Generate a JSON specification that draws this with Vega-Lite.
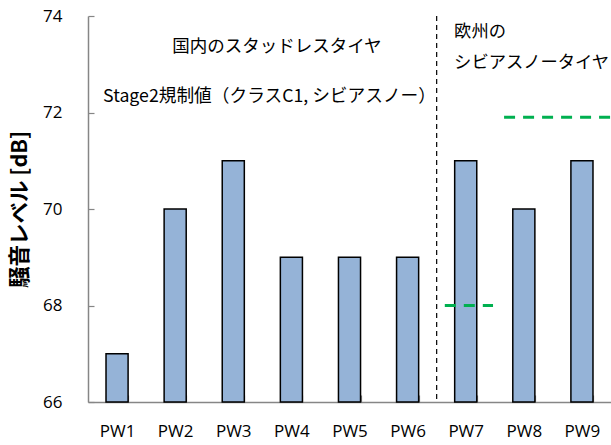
{
  "$schema": "https://vega.github.io/schema/vega-lite/v6.json",
  "width": 523,
  "height": 386,
  "autosize": "none",
  "padding": {"left": 88, "top": 16, "right": 0, "bottom": 43},
  "background": "white",
  "config": {
    "view": {"stroke": null},
    "font": "Noto Sans CJK JP",
    "axis": {"grid": false, "labelFont": "Open Sans", "titleFont": "Noto Sans CJK JP"}
  },
  "datasets": {
    "bars": [
      {"tire": "PW1", "level": 67},
      {"tire": "PW2", "level": 70},
      {"tire": "PW3", "level": 71},
      {"tire": "PW4", "level": 69},
      {"tire": "PW5", "level": 69},
      {"tire": "PW6", "level": 69},
      {"tire": "PW7", "level": 71},
      {"tire": "PW8", "level": 70},
      {"tire": "PW9", "level": 71}
    ],
    "limits": [
      {"x1": 6.64, "x2": 7.47, "y": 68},
      {"x1": 7.66, "x2": 9.5, "y": 71.9}
    ],
    "centerLabels": [
      {"x": 3.75, "y": 73.36, "text": "国内のスタッドレスタイヤ"}
    ],
    "limitLabel": [
      {"x": 0.76, "y": 72.32, "text": "Stage2規制値（クラスC1, シビアスノー）"}
    ],
    "euLabels": [
      {"x": 6.8, "y": 73.67, "text": "欧州の"},
      {"x": 6.8, "y": 73.03, "text": "シビアスノータイヤ"}
    ]
  },
  "layer": [
    {
      "data": {"name": "bars"},
      "mark": {"type": "bar", "fill": "#95b3d7", "stroke": "#000000", "strokeWidth": 1.5},
      "encoding": {
        "x": {
          "field": "tire", "type": "nominal", "sort": null,
          "scale": {"paddingInner": 0.62, "paddingOuter": 0.31},
          "axis": {
            "title": null, "labelAngle": 0, "labelFontSize": 17, "labelColor": "#000000",
            "labelPadding": 28, "domainColor": "#868686", "domainWidth": 1.5,
            "tickColor": "#868686", "tickSize": -7, "tickBand": "extent", "tickWidth": 1.2
          }
        },
        "y": {
          "field": "level", "type": "quantitative",
          "scale": {"domain": [66, 74], "zero": false, "nice": false},
          "axis": {
            "values": [66, 68, 70, 72, 74], "title": "騒音レベル [dB]",
            "titleFontSize": 21.5, "titleFontWeight": "bold", "titleColor": "#000000", "titlePadding": 11,
            "labelFontSize": 17, "labelColor": "#000000", "labelPadding": 32,
            "domainColor": "#868686", "domainWidth": 1.5,
            "tickColor": "#868686", "tickSize": -6, "tickWidth": 1.2
          }
        },
        "y2": {"datum": 66}
      }
    },
    {
      "mark": {"type": "rule", "color": "#000000", "strokeWidth": 1.5},
      "encoding": {"y": {"datum": 74}}
    },
    {
      "mark": {"type": "rule", "color": "#ff0000", "strokeWidth": 3},
      "encoding": {"y": {"datum": 72}}
    },
    {
      "data": {"values": [{"x": 6.5}]},
      "mark": {"type": "rule", "color": "#000000", "strokeWidth": 1.2, "strokeDash": [5, 4]},
      "encoding": {
        "x": {"field": "x", "type": "quantitative", "scale": {"domain": [0.5, 9.5], "nice": false, "zero": false}, "axis": null}
      }
    },
    {
      "data": {"name": "limits"},
      "mark": {"type": "rule", "color": "#00b050", "strokeWidth": 3, "strokeDash": [11, 8]},
      "encoding": {
        "x": {"field": "x1", "type": "quantitative", "scale": {"domain": [0.5, 9.5], "nice": false, "zero": false}, "axis": null},
        "x2": {"field": "x2"},
        "y": {"field": "y", "type": "quantitative"}
      }
    },
    {
      "data": {"name": "centerLabels"},
      "mark": {"type": "text", "fontSize": 17.5, "color": "#000000", "baseline": "middle", "align": "center"},
      "encoding": {
        "x": {"field": "x", "type": "quantitative", "scale": {"domain": [0.5, 9.5], "nice": false, "zero": false}, "axis": null},
        "y": {"field": "y", "type": "quantitative"},
        "text": {"field": "text"}
      }
    },
    {
      "data": {"name": "limitLabel"},
      "mark": {"type": "text", "fontSize": 17.7, "color": "#000000", "baseline": "middle", "align": "left"},
      "encoding": {
        "x": {"field": "x", "type": "quantitative", "scale": {"domain": [0.5, 9.5], "nice": false, "zero": false}, "axis": null},
        "y": {"field": "y", "type": "quantitative"},
        "text": {"field": "text"}
      }
    },
    {
      "data": {"name": "euLabels"},
      "mark": {"type": "text", "fontSize": 17.3, "color": "#000000", "baseline": "middle", "align": "left"},
      "encoding": {
        "x": {"field": "x", "type": "quantitative", "scale": {"domain": [0.5, 9.5], "nice": false, "zero": false}, "axis": null},
        "y": {"field": "y", "type": "quantitative"},
        "text": {"field": "text"}
      }
    }
  ],
  "resolve": {"scale": {"x": "independent"}}
}
